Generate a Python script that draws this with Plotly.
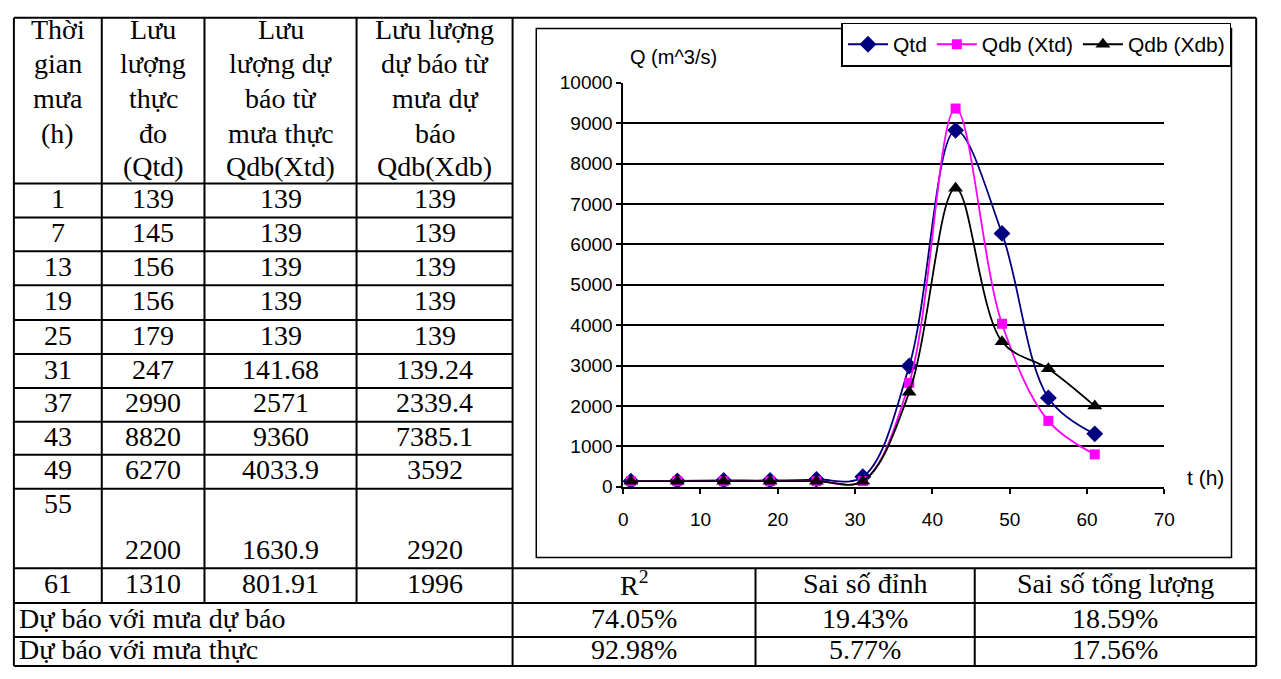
import plotly.graph_objects as go

W, H = 1281, 679

# ---------------- data ----------------
hours = [1, 7, 13, 19, 25, 31, 37, 43, 49, 55, 61]
q_td = [139, 145, 156, 156, 179, 247, 2990, 8820, 6270, 2200, 1310]
q_db_xtd = [139, 139, 139, 139, 139, 141.68, 2571, 9360, 4033.9, 1630.9, 801.91]
q_db_xdb = [139, 139, 139, 139, 139, 139.24, 2339.4, 7385.1, 3592, 2920, 1996]

series_names = ["Qtd", "Qdb (Xtd)", "Qdb (Xdb)"]

header_lines = [
    ["Thời", "gian", "mưa", "(h)"],
    ["Lưu", "lượng", "thực", "đo", "(Qtd)"],
    ["Lưu", "lượng dự", "báo từ", "mưa thực", "Qdb(Xtd)"],
    ["Lưu lượng", "dự báo từ", "mưa dự", "báo", "Qdb(Xdb)"],
]

metric_headers = ["R<sup>2</sup>", "Sai số đỉnh", "Sai số tổng lượng"]
case_labels = ["Dự báo với mưa dự báo", "Dự báo với mưa thực"]
r2_vals = [74.05, 92.98]
peak_err = [19.43, 5.77]
vol_err = [18.59, 17.56]

x_ticks = [0, 10, 20, 30, 40, 50, 60, 70]
y_ticks = [0, 1000, 2000, 3000, 4000, 5000, 6000, 7000, 8000, 9000, 10000]
y_tick_text = ["0", "1000", "2000", "3000", "4000", "5000", "6000", "7000",
               "8000", "9000", "10000"]

# ---------------- layout geometry (pixels) ----------------
col_x = [9, 98, 202, 356, 514]
x_right = 1267
row_y = [8, 179, 214, 249, 284, 320, 355, 390, 425, 459, 494, 576, 612, 647, 677]
metric_x = [514, 760, 982, 1267]

SERIF = "Liberation Serif, Times New Roman, serif"
SANS = "Liberation Sans, Arial, sans-serif"
TSIZE = 28
DY = -2  # small upward nudge for text glyph centering


def px(x):
    return x / W


def py(y):
    return 1 - y / H


shapes = []
annotations = []


def hline(x0, x1, y, w=2):
    shapes.append(dict(type="line", xref="paper", yref="paper",
                       x0=px(x0), x1=px(x1), y0=py(y), y1=py(y),
                       line=dict(color="black", width=w)))


def vline(x, y0, y1, w=2):
    shapes.append(dict(type="line", xref="paper", yref="paper",
                       x0=px(x), x1=px(x), y0=py(y0), y1=py(y1),
                       line=dict(color="black", width=w)))


def text(x, y, t, size=TSIZE, fam=SERIF, anchor="center"):
    annotations.append(dict(xref="paper", yref="paper", x=px(x), y=py(y + DY),
                            text=t, showarrow=False, xanchor=anchor,
                            yanchor="middle",
                            font=dict(family=fam, size=size, color="black")))


# outer border
hline(col_x[0], x_right, row_y[0])
hline(col_x[0], x_right, row_y[-1])
vline(col_x[0], row_y[0], row_y[-1])
vline(x_right, row_y[0], row_y[-1])
# column lines in left table
for cx in col_x[1:4]:
    vline(cx, row_y[0], row_y[12])
vline(col_x[4], row_y[0], row_y[-1])
# row lines
for ry in row_y[1:11]:
    hline(col_x[0], col_x[4], ry)
for ry in row_y[11:14]:
    hline(col_x[0], x_right, ry)
for mx in metric_x[1:3]:
    vline(mx, row_y[11], row_y[-1])

# header texts
header_y = [22, 57, 93, 129, 164]
for ci, lines in enumerate(header_lines):
    cx = (col_x[ci] + col_x[ci + 1]) / 2
    for li, ln in enumerate(lines):
        text(cx, header_y[li], ln)


def fmt(v):
    return f"{v:g}"


cols_vals = [hours, q_td, q_db_xtd, q_db_xdb]
for i in range(len(hours)):
    if i < 9:
        yc = (row_y[1 + i] + row_y[2 + i]) / 2
        ys = [yc] * 4
    elif i == 9:
        ys = [511, 559, 559, 559]
    else:
        yc = (row_y[11] + row_y[12]) / 2
        ys = [yc] * 4
    for ci in range(4):
        cx = (col_x[ci] + col_x[ci + 1]) / 2
        text(cx, ys[ci], fmt(cols_vals[ci][i]))

# metrics table
yh = (row_y[11] + row_y[12]) / 2
for mi, mh in enumerate(metric_headers):
    text((metric_x[mi] + metric_x[mi + 1]) / 2, yh, mh)
metric_rows = [(r2_vals[k], peak_err[k], vol_err[k]) for k in range(2)]
for k in range(2):
    yc = (row_y[12 + k] + row_y[13 + k]) / 2
    text(12, yc, case_labels[k], anchor="left")
    for mi, v in enumerate(metric_rows[k]):
        text((metric_x[mi] + metric_x[mi + 1]) / 2, yc, f"{v:.2f}%")

# chart area box
shapes.append(dict(type="rect", xref="paper", yref="paper",
                   x0=px(538), x1=px(1242), y0=py(565), y1=py(19),
                   line=dict(color="black", width=1.5), layer="below"))
text(677, 50, "Q (m^3/s)", size=20, fam=SANS)
text(1216, 484, "t (h)", size=21, fam=SANS)

# ---------------- traces ----------------
fig = go.Figure()
styles = [
    dict(color="#000080", symbol="diamond", size=13),
    dict(color="#FF00FF", symbol="square", size=10),
    dict(color="#000000", symbol="triangle-up", size=13),
]
for name, ys_, st in zip(series_names, [q_td, q_db_xtd, q_db_xdb], styles):
    fig.add_trace(go.Scatter(
        x=hours, y=ys_, name=name, mode="lines+markers",
        line=dict(color=st["color"], width=1.8, shape="spline", smoothing=1.0),
        marker=dict(color=st["color"], symbol=st["symbol"], size=st["size"],
                    line=dict(width=0)),
        cliponaxis=False,
    ))

fig.update_layout(
    width=W, height=H, autosize=False,
    margin=dict(l=0, r=0, t=0, b=0, pad=0),
    paper_bgcolor="white", plot_bgcolor="white",
    shapes=shapes, annotations=annotations,
    font=dict(family=SANS, size=18, color="black"),
    xaxis=dict(domain=[px(626), px(1174)], range=[0, 70], tickvals=x_ticks,
               showgrid=False, zeroline=False, showline=True,
               linecolor="black", linewidth=1.5, ticks="outside",
               ticklen=5, tickwidth=1.5, tickcolor="black",
               ticklabelstandoff=10,
               tickfont=dict(family=SANS, size=19)),
    yaxis=dict(domain=[py(492), py(75)], range=[0, 10000], tickvals=y_ticks,
               ticktext=y_tick_text,
               showgrid=True, gridcolor="black", gridwidth=1.5,
               zeroline=False, showline=True, linecolor="black",
               linewidth=1.5, ticks="outside", ticklen=5, tickwidth=1.5,
               tickcolor="black", tickfont=dict(family=SANS, size=19)),
    showlegend=True,
    legend=dict(orientation="h", x=px(1242), xanchor="right",
                y=py(13), yanchor="top", bgcolor="white",
                bordercolor="black", borderwidth=1.5,
                font=dict(family=SANS, size=21), itemwidth=40,
                traceorder="normal"),
)

fig.write_html("out.html", config={"displayModeBar": False},
               post_script="document.body.style.margin='0';")
